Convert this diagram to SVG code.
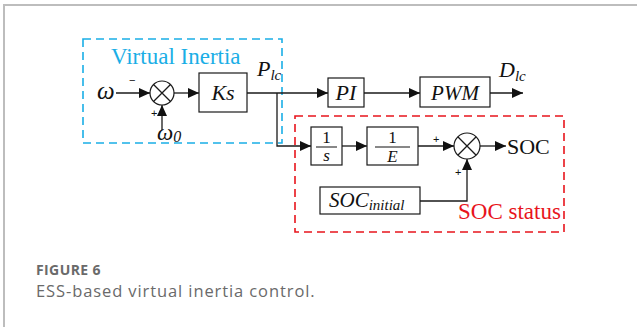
<svg xmlns="http://www.w3.org/2000/svg" width="638" height="327" viewBox="0 0 638 327">
  <style>
    .wire { fill: none; stroke: #1a1a1a; stroke-width: 1.3; }
    .box { fill: #fff; stroke: #1a1a1a; stroke-width: 1.2; }
    .sum { fill: #fff; stroke: #1a1a1a; stroke-width: 1.2; }
    .tm { font-family: "Liberation Serif", "Times New Roman", serif; fill: #111; }
    .it { font-style: italic; }
    .sign { font-family: "Liberation Sans", Arial, sans-serif; font-size: 11px; fill: #111; }
    .cap { font-family: "Open Sans", "Liberation Sans", sans-serif; fill: #6a6a6a; }
  </style>
  <defs>
    <marker id="arrow" markerUnits="userSpaceOnUse" markerWidth="12" markerHeight="10" refX="11" refY="5" orient="auto">
      <path d="M0,0 L11,5 L0,10 Z" fill="#111"/>
    </marker>
  </defs>

  <rect width="638" height="327" fill="#fff"/>
  <!-- page frame -->
  <path d="M4,327 V5 H637" fill="none" stroke="#bdbdbd" stroke-width="2"/>

  <!-- group outlines -->
  <g id="virtual-inertia">
    <rect x="83" y="39" width="199" height="104" fill="none" stroke="#1aaee6" stroke-width="1.6" stroke-dasharray="8,5"/>
    <text x="111" y="64" font-family="Liberation Serif, serif" font-size="23" fill="#1aaee6">Virtual Inertia</text>
  </g>
  <g id="soc-status">
    <rect x="295" y="116" width="269" height="116" fill="none" stroke="#e8141c" stroke-width="1.6" stroke-dasharray="8,5"/>
    <text x="458" y="219" font-family="Liberation Serif, serif" font-size="23" fill="#e8141c">SOC status</text>
  </g>

  <!-- connectors -->
  <g id="connectors">
    <path class="wire" d="M116,93 H150" marker-end="url(#arrow)"/>
    <path class="wire" d="M162,130 V105" marker-end="url(#arrow)"/>
    <path class="wire" d="M174,93 H199" marker-end="url(#arrow)"/>
    <path class="wire" d="M247,93 H328" marker-end="url(#arrow)"/>
    <path class="wire" d="M364,93 H420" marker-end="url(#arrow)"/>
    <path class="wire" d="M490,93 H523" marker-end="url(#arrow)"/>
    <path class="wire" d="M277,93 V146 H311" marker-end="url(#arrow)"/>
    <path class="wire" d="M342,146 H367" marker-end="url(#arrow)"/>
    <path class="wire" d="M418,146 H454" marker-end="url(#arrow)"/>
    <path class="wire" d="M480,146 H506" marker-end="url(#arrow)"/>
    <path class="wire" d="M420,201 H467 V159" marker-end="url(#arrow)"/>
  </g>

  <!-- input labels -->
  <g id="omega">
    <text class="tm it" x="97" y="99" font-size="25">ω</text>
    <text class="sign" x="129" y="84">−</text>
  </g>
  <g id="omega0">
    <text class="tm it" x="157" y="140" font-size="23">ω<tspan font-size="16" dy="2">0</tspan></text>
    <text class="sign" x="151" y="117">+</text>
  </g>

  <g id="sum1">
    <circle class="sum" cx="162" cy="93" r="12"/>
    <path class="wire" d="M153.5,84.5 L170.5,101.5 M170.5,84.5 L153.5,101.5" stroke-width="1"/>
  </g>

  <g id="ks">
    <rect class="box" x="199" y="73" width="48" height="39"/>
    <text class="tm it" x="223" y="100" font-size="22" text-anchor="middle">Ks</text>
  </g>

  <g id="plc">
    <text class="tm it" x="257" y="76" font-size="22">P<tspan font-size="15" dy="4">lc</tspan></text>
  </g>

  <g id="pi">
    <rect class="box" x="328" y="78" width="36" height="29"/>
    <text class="tm it" x="346" y="100" font-size="22" text-anchor="middle">PI</text>
  </g>

  <g id="pwm">
    <rect class="box" x="420" y="77" width="70" height="30"/>
    <text class="tm it" x="455" y="100" font-size="21" text-anchor="middle">PWM</text>
  </g>

  <g id="dlc">
    <text class="tm it" x="499" y="77" font-size="22">D<tspan font-size="15" dy="4">lc</tspan></text>
  </g>

  <g id="integrator">
    <rect class="box" x="311" y="127" width="31" height="38"/>
    <text class="tm" x="326.5" y="143" font-size="17" text-anchor="middle">1</text>
    <line x1="316" y1="147" x2="337" y2="147" stroke="#111" stroke-width="1"/>
    <text class="tm it" x="326.5" y="161" font-size="17" text-anchor="middle">s</text>
  </g>

  <g id="inv-e">
    <rect class="box" x="367" y="127" width="51" height="38"/>
    <text class="tm" x="392.5" y="143" font-size="17" text-anchor="middle">1</text>
    <line x1="375" y1="147" x2="410" y2="147" stroke="#111" stroke-width="1"/>
    <text class="tm it" x="392.5" y="162" font-size="17" text-anchor="middle">E</text>
  </g>

  <g id="sum2">
    <circle class="sum" cx="467" cy="146" r="13"/>
    <path class="wire" d="M457.8,136.8 L476.2,155.2 M476.2,136.8 L457.8,155.2" stroke-width="1"/>
    <text class="sign" x="433" y="143">+</text>
    <text class="sign" x="455" y="176">+</text>
  </g>

  <g id="soc-out">
    <text class="tm" x="507" y="154" font-size="22">SOC</text>
  </g>

  <g id="soc-initial">
    <rect class="box" x="320" y="187" width="100" height="27"/>
    <text class="tm it" x="329" y="207" font-size="21">SOC<tspan font-size="15" dy="3">initial</tspan></text>
  </g>

  <!-- caption -->
  <text class="cap" x="36" y="275" font-size="14" font-weight="bold" letter-spacing="0.4">FIGURE 6</text>
  <text class="cap" x="36" y="297" font-size="16.5" letter-spacing="0.9">ESS-based virtual inertia control.</text>
</svg>
